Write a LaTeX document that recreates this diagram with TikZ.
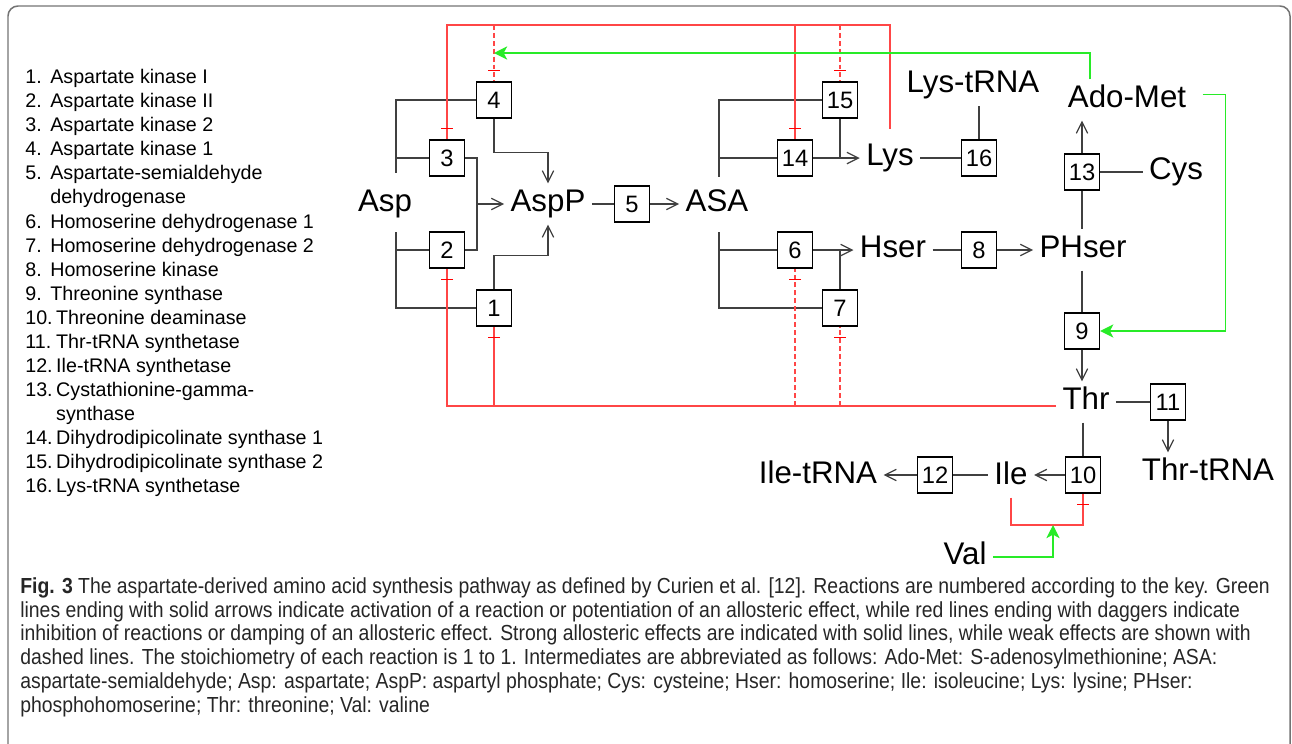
\documentclass[tikz,border=0pt]{standalone}
\usepackage{fontspec}
\setmainfont{Liberation Sans}
\newfontfamily\capfont[FakeStretch=0.89]{Liberation Sans}
\usepackage{tikz}
\usetikzlibrary{calc,arrows.meta,decorations.markings}
\definecolor{actgreen}{RGB}{40,235,40}
\definecolor{inhred}{RGB}{255,70,70}
\newcommand{\kn}[1]{\makebox[1.27em][l]{#1}}
\newcommand{\knn}[1]{\makebox[1.57em][l]{#1}}

\begin{document}
\begin{tikzpicture}[
      x=0.02cm, y=-0.02cm,
      R/.style={draw,line width=0.8pt,minimum width=0.7cm,minimum height=0.72cm,inner sep=0pt,font=\fontsize{13.5}{14}\selectfont},
      M/.style={inner xsep=3.5pt,inner ysep=3pt,text height=13pt,text depth=4pt,font=\fontsize{17.8}{20}\selectfont},
      ln/.style={draw=black!75,line width=0.7pt},
      inh/.style={draw=inhred,line width=0.7pt,postaction={decorate,decoration={markings,
          mark=at position -0.22cm with {\draw[solid,red,line width=0.7pt] (0,-0.12cm) -- (0,0.12cm);}}}},
      weak/.style={dash pattern=on 2.8pt off 1.7pt},
      act/.style={draw=actgreen,line width=0.8pt,-{Stealth[length=7.5pt,width=7.5pt,inset=2pt]}},
      >={Straight Barb[length=6.5pt,width=6.5pt]},
    ]
    \useasboundingbox (0,0) rectangle (1292,744);
    \clip (0,0) rectangle (1292,744);
    \draw[black!55,line width=0.85pt,rounded corners=0.2cm] (8,6) rectangle (1290,790);

    % key of the reactions
    \node[anchor=north west,inner sep=0pt,align=left,font=\fontsize{11.2}{13.7}\selectfont] (key) at (25,69) {%
      \kn{1.}Aspartate kinase I\\
      \kn{2.}Aspartate kinase II\\
      \kn{3.}Aspartate kinase 2\\
      \kn{4.}Aspartate kinase 1\\
      \kn{5.}Aspartate-semialdehyde\\
      \kn{}dehydrogenase\\
      \kn{6.}Homoserine dehydrogenase 1\\
      \kn{7.}Homoserine dehydrogenase 2\\
      \kn{8.}Homoserine kinase\\
      \kn{9.}Threonine synthase\\
      \knn{10.}Threonine deaminase\\
      \knn{11.}Thr-tRNA synthetase\\
      \knn{12.}Ile-tRNA synthetase\\
      \knn{13.}Cystathionine-gamma-\\
      \knn{}synthase\\
      \knn{14.}Dihydrodipicolinate synthase 1\\
      \knn{15.}Dihydrodipicolinate synthase 2\\
      \knn{16.}Lys-tRNA synthetase};

    \node[M] (asp) at (385,204) {Asp};
    \node[M] (aspp) at (548,204) {AspP};
    \node[M] (asa) at (717,204) {ASA};
    \node[M] (lys) at (890,158) {Lys};
    \node[M] (lystrna) at (973,85) {Lys-tRNA};
    \node[M] (adomet) at (1127,100) {Ado-Met};
    \node[M] (cys) at (1176,172) {Cys};
    \node[M] (hser) at (893,250) {Hser};
    \node[M] (phser) at (1083,250) {PHser};
    \node[M] (thr) at (1086,402) {Thr};
    \node[M] (thrtrna) at (1208,473) {Thr-tRNA};
    \node[M] (ile) at (1011,477) {Ile};
    \node[M] (iletrna) at (818,476) {Ile-tRNA};
    \node[M] (val) at (965,557) {Val};

    \node[R] (r1) at (494,308) {1};
    \node[R] (r2) at (447,250) {2};
    \node[R] (r3) at (447,158) {3};
    \node[R] (r4) at (494,100) {4};
    \node[R] (r5) at (632,204) {5};
    \node[R] (r6) at (795,250) {6};
    \node[R] (r7) at (840,308) {7};
    \node[R] (r8) at (979,250) {8};
    \node[R] (r9) at (1082,331) {9};
    \node[R] (r10) at (1083,475) {10};
    \node[R] (r11) at (1168,402) {11};
    \node[R] (r12) at (935,475) {12};
    \node[R] (r13) at (1082,172) {13};
    \node[R] (r14) at (795,158) {14};
    \node[R] (r15) at (840,100) {15};
    \node[R] (r16) at (979,158) {16};

    \coordinate (aspT) at (396,173);
    \coordinate (aspB) at (396,232);
    \coordinate (asaT) at (719,177);
    \coordinate (asaB) at (719,232);
    \coordinate (j32) at (477,204);
    \coordinate (topr) at (600,25);
    \coordinate (botr) at (600,406);
    \coordinate (gtop) at (800,53);
    \coordinate (vI) at (1053,525);

    % reactions
    \draw[ln] (r4.west) -| (aspT);
    \draw[ln] (r3.west) -- (r3.west -| aspT);
    \draw[ln] (r1.west) -| (aspB);
    \draw[ln] (r2.west) -- (r2.west -| aspB);
    \draw[ln] (r3.east) -| (j32) |- (r2.east);
    \draw[ln,->] (j32) -- (aspp.west);
    \draw[ln,->] (r4.south) -- ++(0,34) -| (aspp.north);
    \draw[ln,->] (r1.north) -- ++(0,-34) -| (aspp.south);
    \draw[ln] (aspp.east) -- (r5.west);
    \draw[ln,->] (r5.east) -- (asa.west);
    \draw[ln] (r15.west) -| (asaT);
    \draw[ln] (r14.west) -- (r14.west -| asaT);
    \draw[ln] (r7.west) -| (asaB);
    \draw[ln] (r6.west) -- (r6.west -| asaB);
    \draw[ln,->] (r14.east) -- (lys.west);
    \draw[ln] (r15.south) -- (r15.south |- r14.east);
    \draw[ln,->] (r6.east) -- (hser.west);
    \draw[ln] (r7.north) -- (r7.north |- r6.east);
    \draw[ln] (lys.east) -- (r16.west);
    \draw[ln] (r16.north) -- (r16.north |- lystrna.south);
    \draw[ln] (hser.east) -- (r8.west);
    \draw[ln,->] (r8.east) -- (phser.west);
    \draw[ln] (r9.north |- phser.south) -- (r9.north);
    \draw[ln,->] (r9.south) -- (r9.south |- thr.north);
    \draw[ln] (r13.south) -- (r13.south |- phser.north);
    \draw[ln,->] (r13.north) -- (r13.north |- adomet.south);
    \draw[ln] (r13.east) -- (cys.west);
    \draw[ln] (thr.east) -- (r11.west);
    \draw[ln,->] (r11.south) -- (r11.south |- thrtrna.north);
    \draw[ln] (r10.north |- thr.south) -- (r10.north);
    \draw[ln,->] (r10.west) -- (r10.west -| ile.east);
    \draw[ln] (r12.east -| ile.west) -- (r12.east);
    \draw[ln,->] (r12.west) -- (r12.west -| iletrna.east);

    % inhibition (red) and activation (green)
    \draw[inh] (thr.west |- botr) -| (r2.south);
    \draw[inh] (r1.south |- botr) -- (r1.south);
    \draw[inh,weak] (r6.south |- botr) -- (r6.south);
    \draw[inh,weak] (r7.south |- botr) -- (r7.south);
    \draw[inh] ([yshift=5pt]lys.north) |- (topr) -| (r3.north);
    \draw[inh] (r14.north |- topr) -- (r14.north);
    \draw[inh,weak] (r15.north |- topr) -- (r15.north);
    \draw[inh,weak] (r4.north |- topr) -- (r4.north);
    \draw[inh] (ile.south) |- (vI) -| (r10.south);
    \draw[act] ([xshift=-0.74cm]adomet.north) |- (r4.north |- gtop);
    \draw[act] ([xshift=0.2cm,yshift=3pt]adomet.east) -- ++(23,0) |- (r9.east);
    \draw[act] (val.east) -| (vI);

    \node[anchor=north west,inner sep=0pt,align=left,text=black!85,font=\capfont\fontsize{12.4}{13.6}\selectfont] (cap) at (20,577) {%
      \textbf{Fig. 3} The aspartate-derived amino acid synthesis pathway as defined by Curien et al. [12]. Reactions are numbered according to the key. Green\\
      lines ending with solid arrows indicate activation of a reaction or potentiation of an allosteric effect, while red lines ending with daggers indicate\\
      inhibition of reactions or damping of an allosteric effect. Strong allosteric effects are indicated with solid lines, while weak effects are shown with\\
      dashed lines. The stoichiometry of each reaction is 1 to 1. Intermediates are abbreviated as follows: Ado-Met: S-adenosylmethionine; ASA:\\
      aspartate-semialdehyde; Asp: aspartate; AspP: aspartyl phosphate; Cys: cysteine; Hser: homoserine; Ile: isoleucine; Lys: lysine; PHser:\\
      phosphohomoserine; Thr: threonine; Val: valine};
\end{tikzpicture}
\end{document}
